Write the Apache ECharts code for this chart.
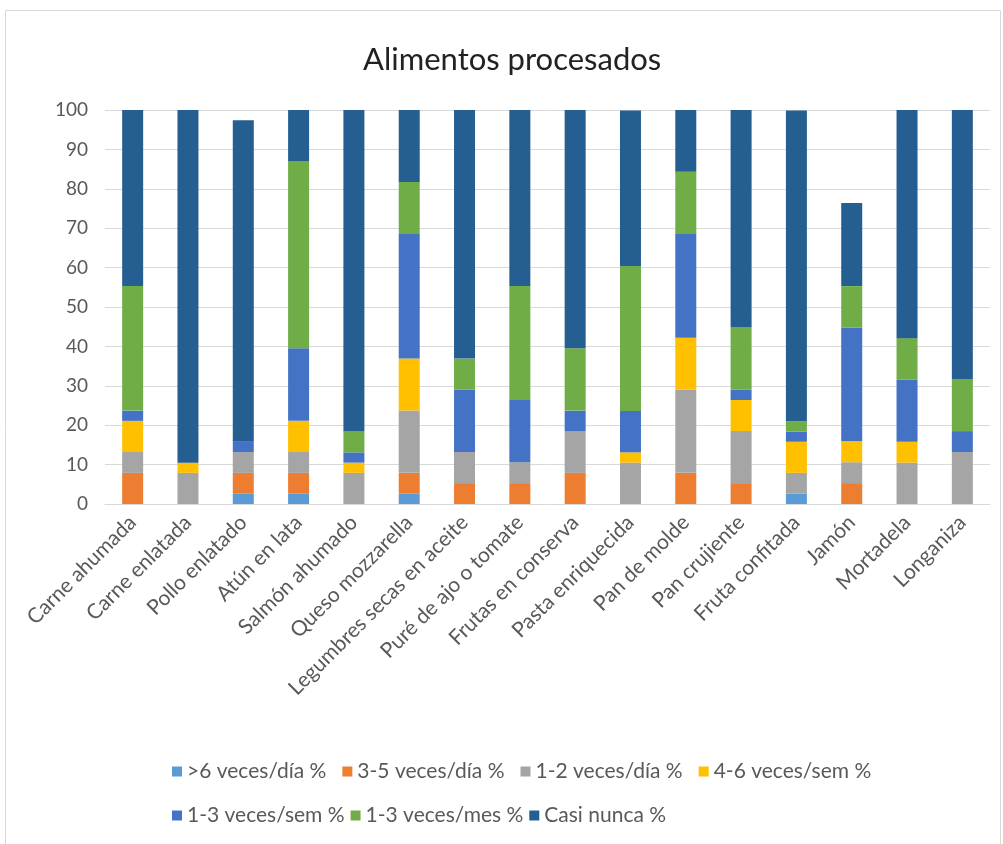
<!DOCTYPE html>
<html>
<head>
<meta charset="utf-8">
<script src="https://cdn.jsdelivr.net/npm/echarts@6/dist/echarts.min.js"></script>
<style>
html,body{margin:0;padding:0;background:#fff;}
#chart{width:1003px;height:844px;}
</style>
</head>
<body>
<div id="chart"></div>
<script>
const categories = ["Carne ahumada","Carne enlatada","Pollo enlatado","Atún en lata","Salmón ahumado","Queso mozzarella","Legumbres secas en aceite","Puré de ajo o tomate","Frutas en conserva","Pasta enriquecida","Pan de molde","Pan crujiente","Fruta confitada","Jamón","Mortadela","Longaniza"];
const seriesNames = [">6 veces/día %","3-5 veces/día %","1-2 veces/día %","4-6 veces/sem %","1-3 veces/sem %","1-3 veces/mes %","Casi nunca %"];
const mas6Dia     = [0,   0,   2.6, 2.6, 0,   2.6, 0,   0,   0,   0,   0,   0,   2.6, 0,   0,   0];
const v35Dia      = [7.9, 0,   5.3, 5.3, 0,   5.3, 5.3, 5.3, 7.9, 0,   7.9, 5.3, 0,   5.3, 0,   0];
const v12Dia      = [5.3, 7.9, 5.3, 5.3, 7.9, 15.8,7.9, 5.3, 10.5,10.5,21.1,13.2,5.3, 5.3, 10.5,13.2];
const v46Sem      = [7.9, 2.6, 0,   7.9, 2.6, 13.2,0,   0,   0,   2.6, 13.2,7.9, 7.9, 5.3, 5.3, 0];
const v13Sem      = [2.6, 0,   2.6, 18.4,2.6, 31.6,15.8,15.8,5.3, 10.5,26.3,2.6, 2.6, 28.9,15.8,5.3];
const v13Mes      = [31.6,0,   0,   47.4,5.3, 13.2,7.9, 28.9,15.8,36.8,15.8,15.8,2.6, 10.5,10.5,13.2];
const casiNunca   = [44.7,89.5,81.6,13.2,81.6,18.4,63.2,44.7,60.5,39.5,15.8,55.3,78.9,21.1,57.9,68.4];
const yTicks = [0,10,20,30,40,50,60,70,80,90,100];

const colors = ["#5B9BD5","#ED7D31","#A5A5A5","#FFC000","#4472C4","#70AD47","#255E91"];
const dataArr = [mas6Dia, v35Dia, v12Dia, v46Sem, v13Sem, v13Mes, casiNunca];
const FONT = "Lato, 'Open Sans', sans-serif";
const legendText = {fontFamily:FONT,fontSize:21,color:'#595959'};

const chart = echarts.init(document.getElementById('chart'), null, {renderer:'canvas'});
chart.setOption({
  backgroundColor:'#fff',
  animation:false,
  textStyle:{fontFamily:FONT},
  graphic:[{type:'rect',shape:{x:5.5,y:10.5,width:995,height:840},style:{fill:'none',stroke:'#D9D9D9',lineWidth:1}}],
  title:{text:'Alimentos procesados',left:358,top:39,textStyle:{fontFamily:FONT,fontSize:31,fontWeight:'normal',color:'#222'}},
  legend:[
    {data:seriesNames.slice(0,4), left:167, top:756, itemWidth:10, itemHeight:10, itemGap:16, icon:'rect', textStyle:legendText},
    {data:seriesNames.slice(4), left:167, top:800, itemWidth:10, itemHeight:10, itemGap:6, icon:'rect', textStyle:legendText}
  ],
  grid:{left:105,right:13,top:110,bottom:340,containLabel:false},
  xAxis:{
    type:'category', data:categories,
    axisLine:{lineStyle:{color:'#D9D9D9'}},
    axisTick:{show:false},
    axisLabel:{rotate:45,fontSize:21,color:'#595959',fontFamily:FONT,interval:0,margin:15}
  },
  yAxis:{
    type:'value', min:0, max:100, interval:10,
    axisLine:{show:false}, axisTick:{show:false},
    splitLine:{lineStyle:{color:'#D9D9D9'}},
    axisLabel:{fontSize:19,color:'#595959',fontFamily:FONT,margin:17}
  },
  series: seriesNames.map((n,i)=>({
    name:n, type:'bar', stack:'total', barWidth:21, data:dataArr[i],
    itemStyle:{color:colors[i]}
  }))
});
</script>
</body>
</html>
